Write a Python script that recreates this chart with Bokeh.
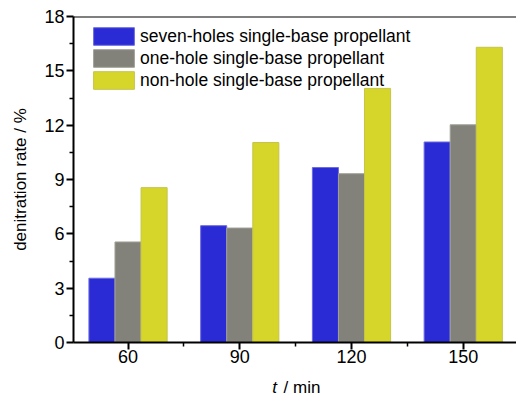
from bokeh.plotting import figure
from bokeh.models import (FixedTicker, Span, Legend, LegendItem, Range1d,
                          ColumnDataSource, Label)
from bokeh.layouts import column
from bokeh.transform import dodge
from bokeh.embed import file_html
from bokeh.resources import INLINE

# ---- data ----
times = [60, 90, 120, 150]
x_ticks = [60, 90, 120, 150]
y_ticks = [0, 3, 6, 9, 12, 15, 18]
seven_holes = [3.55, 6.45, 9.66, 11.07]
one_hole = [5.55, 6.32, 9.32, 12.02]
non_hole = [8.55, 11.04, 14.03, 16.30]
series_names = ["seven-holes single-base propellant",
                "one-hole single-base propellant",
                "non-hole single-base propellant"]
x_label_italic = "t"
x_label_rest = "/ min"
y_label = "denitration rate / %"
fill_colors = ["#2B2BD5", "#82827A", "#D6D62A"]
edge_colors = ["#6B6BE0", "#A0A098", "#C4C44A"]
offsets = [-7, 0, 7]
bar_width = 7

FONT = "Liberation Sans"

src = ColumnDataSource(dict(t=times, s0=seven_holes, s1=one_hole, s2=non_hole))

xr = Range1d(45.36, 164.3)
p = figure(width=516, height=370, output_backend="svg", toolbar_location=None,
           x_range=xr, y_range=Range1d(0, 18),
           min_border_left=73, min_border_right=0, min_border_top=16,
           min_border_bottom=28)
p.outline_line_color = None
p.grid.visible = False

renderers = []
for i, col in enumerate(["s0", "s1", "s2"]):
    r = p.vbar(x=dodge("t", offsets[i], range=p.x_range), top=col, width=bar_width,
               bottom=0, source=src, fill_color=fill_colors[i],
               line_color=edge_colors[i], line_width=1)
    renderers.append(r)

for ax in (p.xaxis[0], p.yaxis[0]):
    ax.axis_line_width = 2
    ax.axis_line_color = "black"
    ax.major_tick_line_width = 2
    ax.minor_tick_line_width = 1.5
    ax.major_tick_in = 0
    ax.minor_tick_in = 0
    ax.major_tick_out = 7
    ax.minor_tick_out = 4
    ax.major_label_text_font = FONT
    ax.major_label_text_font_size = "18px"
    ax.major_label_text_color = "black"
p.yaxis.major_label_standoff = 2
p.xaxis.major_label_standoff = 0

p.xaxis.ticker = FixedTicker(ticks=x_ticks, minor_ticks=[75, 105, 135])
p.yaxis.ticker = FixedTicker(ticks=y_ticks,
                             minor_ticks=[1.5, 4.5, 7.5, 10.5, 13.5, 16.5])

p.yaxis.axis_label = y_label
p.yaxis.axis_label_text_font = FONT
p.yaxis.axis_label_text_font_size = "17px"
p.yaxis.axis_label_text_font_style = "normal"
p.yaxis.axis_label_text_color = "black"
p.yaxis.axis_label_standoff = 11

# top frame line
p.add_layout(Span(location=18, dimension="width", line_color="black", line_width=2))

legend = Legend(items=[LegendItem(label=series_names[i], renderers=[renderers[i]])
                       for i in range(3)],
                location=(15, 251), glyph_width=51, glyph_height=22,
                label_height=20, spacing=0, padding=0, margin=0,
                label_standoff=1, border_line_color=None,
                background_fill_alpha=0,
                label_text_font=FONT, label_text_font_size="17.5px",
                label_text_color="black")
p.add_layout(legend)

# strip below the plot holding the x-axis title (italic "t"); frame aligns with p
p2 = figure(width=516, height=23, output_backend="svg", toolbar_location=None,
            x_range=xr, y_range=Range1d(0, 23),
            x_axis_type=None, y_axis_type=None,
            min_border=0, min_border_left=73, min_border_right=0,
            min_border_top=0, min_border_bottom=0)
p2.outline_line_color = None
p2.grid.visible = False
p2.add_layout(Label(x=98.7, y=6, text=x_label_italic, text_font=FONT,
                    text_font_size="17px", text_font_style="italic",
                    text_baseline="alphabetic", text_color="black"))
p2.add_layout(Label(x=101.75, y=6, text=x_label_rest, text_font=FONT,
                    text_font_size="17px", text_baseline="alphabetic",
                    text_color="black"))

layout = column(p, p2, spacing=0)

open("out.html", "w").write(file_html(layout, INLINE))
